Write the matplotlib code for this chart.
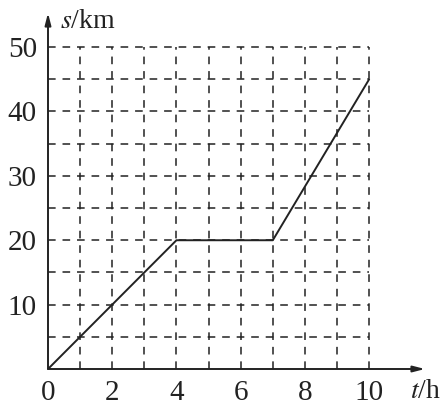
import matplotlib
matplotlib.use("Agg")
import matplotlib.pyplot as plt

plt.rcParams['font.family'] = ['Liberation Serif', 'DejaVu Serif']
plt.rcParams['mathtext.fontset'] = 'stix'

# journey data
t = [0, 4, 7, 10]
s = [0, 20, 20, 45]
xticks = [0, 2, 4, 6, 8, 10]
yticks = [10, 20, 30, 40, 50]
grid_x = list(range(1, 11))
grid_y = list(range(5, 55, 5))

ink = '#222222'

fig = plt.figure(figsize=(4.42, 4.08), dpi=100)
ax = fig.add_axes([48/442, 39/408, (425-48)/442, (369-13)/408])
ax.set_xlim(0, 11.74)
ax.set_ylim(0, 55.3)
for sp in ax.spines.values():
    sp.set_visible(False)

# dashed grid
for gx in grid_x:
    ax.plot([gx, gx], [0, 50], color=ink, lw=1.1, dashes=(5, 4.5))
for gy in grid_y:
    ax.plot([0, 10], [gy, gy], color=ink, lw=1.1, dashes=(5, 4.5))

ax.plot(t, s, color=ink, lw=1.4, solid_capstyle='round')

# axes with arrows
ax.annotate('', xy=(11.74, 0), xytext=(0, 0),
            arrowprops=dict(arrowstyle='-|>,head_length=0.7,head_width=0.18',
                            color=ink, lw=1.4, shrinkA=0, shrinkB=0))
ax.annotate('', xy=(0, 55.3), xytext=(0, 0),
            arrowprops=dict(arrowstyle='-|>,head_length=0.7,head_width=0.18',
                            color=ink, lw=1.4, shrinkA=0, shrinkB=0))

ax.set_xticks(xticks)
ax.set_xticklabels([str(v) for v in xticks])
ax.set_yticks(yticks)
ax.set_yticklabels([str(v) for v in yticks])
ax.tick_params(axis='x', length=0, pad=8, labelsize=21, colors=ink)
ax.tick_params(axis='y', length=0, pad=8, labelsize=21, colors=ink)

fig.text(60/442, 1 - 21/408, '$s$/km', fontsize=20, color=ink,
         ha='left', va='center')
fig.text(441/442, 1 - 392/408, '$t$/h', fontsize=20, color=ink,
         ha='right', va='center')

fig.savefig('out.png', dpi=100)
